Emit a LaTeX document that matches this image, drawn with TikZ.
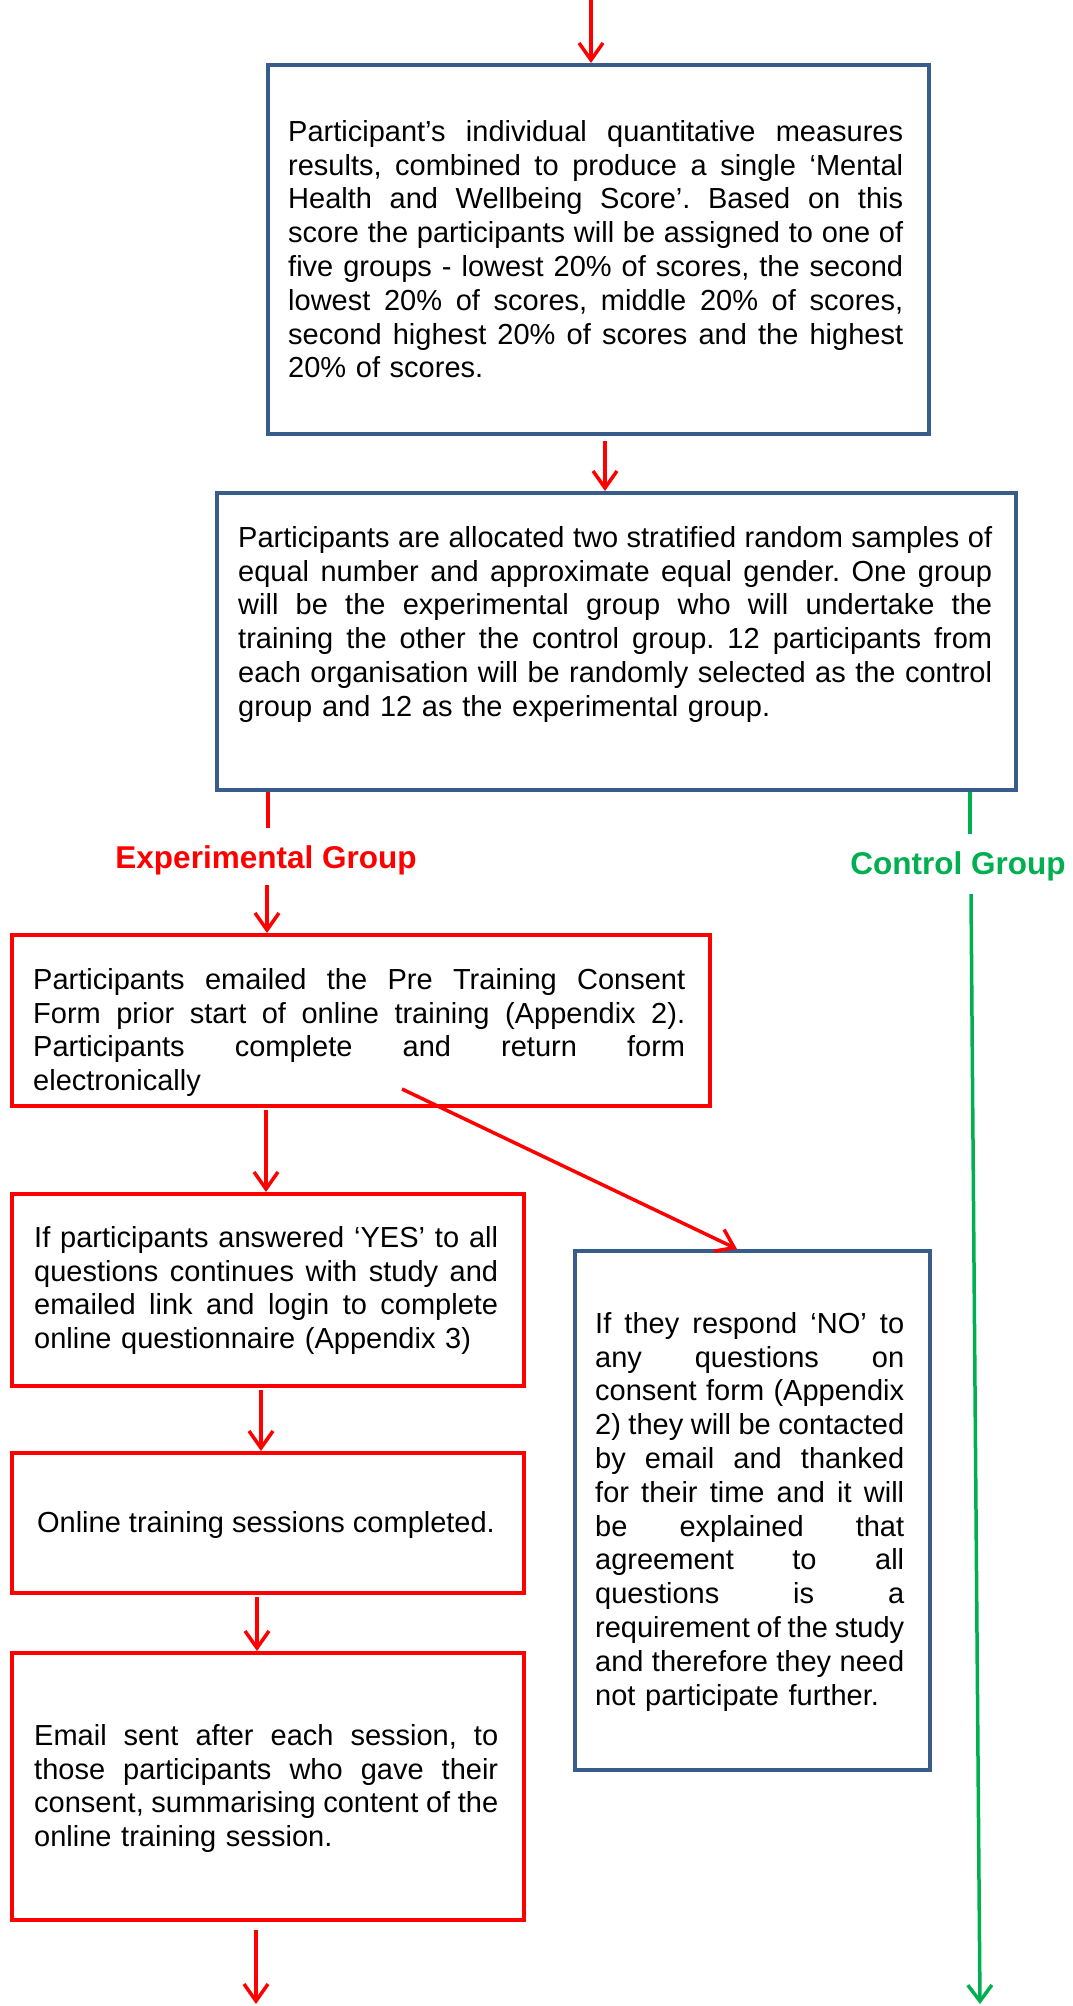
\documentclass[tikz,border=0pt]{standalone}
\usepackage{fontspec}
\setmainfont{Liberation Sans}
\usetikzlibrary{arrows.meta,calc}
\definecolor{boxblue}{HTML}{385D8A}
\definecolor{flowred}{HTML}{FF0000}
\definecolor{flowgreen}{HTML}{00B050}
\setlength\parindent{0pt}
\frenchspacing
% one fully justified line of a box text: every word space stretches equally
\newcommand\jl[1]{\makebox[\linewidth][s]{\spaceskip=.278em plus 1fil minus .08em\relax #1}\\}
% fixes the height of the first line so the text block can be placed by its first baseline
\newcommand\firststrut{\rule{0pt}{.9em}}

\begin{document}
\begin{tikzpicture}[x=1pt,y=-1pt,
  box/.style={draw, line width=4pt, rectangle, inner sep=0pt, anchor=north west},
  bluebox/.style={box, draw=boxblue},
  redbox/.style={box, draw=flowred},
  txt/.style={inner sep=0pt, anchor=north west, align=left,
    font=\fontsize{29}{33.8}\selectfont\frenchspacing},
  grouplabel/.style={inner sep=0pt, font=\fontsize{31.5}{36}\selectfont\bfseries},
  rarrow/.style={draw=flowred, line width=3.5pt, -{Straight Barb[length=17pt,width=24pt]}},
  rline/.style={draw=flowred, line width=3.5pt},
  garrow/.style={draw=flowgreen, line width=3.5pt, -{Straight Barb[length=16pt,width=24pt]}},
  gline/.style={draw=flowgreen, line width=3.5pt},
]
\fill[white] (0,0) rectangle (1072,2006);
\useasboundingbox (0,0) rectangle (1072,2006);

% ---- boxes ----
\node[bluebox, minimum width=661, minimum height=369] (b1) at (266,63) {};
\node[bluebox, minimum width=799, minimum height=297] (b2) at (215,491) {};
\node[redbox,  minimum width=698, minimum height=171] (b3) at (10,933) {};
\node[redbox,  minimum width=512, minimum height=192] (b4) at (10,1192) {};
\node[redbox,  minimum width=512, minimum height=140] (b5) at (10,1451) {};
\node[redbox,  minimum width=512, minimum height=267] (b6) at (10,1651) {};
\node[bluebox, minimum width=355, minimum height=519] (b7) at (573,1249) {};

% ---- box texts ----
\node[txt, text width=615] (t1) at (288,114.9) {\firststrut
\jl{Participant’s individual quantitative measures}
\jl{results, combined to produce a single ‘Mental}
\jl{Health and Wellbeing Score’. Based on this}
\jl{score the participants will be assigned to one of}
\jl{five groups - lowest 20\% of scores, the second}
\jl{lowest 20\% of scores, middle 20\% of scores,}
\jl{second highest 20\% of scores and the highest}
20\% of scores.};

\node[txt, text width=754] (t2) at (238,520.9) {\firststrut
\jl{Participants are allocated two stratified random samples of}
\jl{equal number and approximate equal gender. One group}
\jl{will be the experimental group who will undertake the}
\jl{training the other the control group. 12 participants from}
\jl{each organisation will be randomly selected as the control}
group and 12 as the experimental group.};

\node[txt, text width=652] (t3) at (33,962.9) {\firststrut
\jl{Participants emailed the Pre Training Consent}
\jl{Form prior start of online training (Appendix 2).}
\jl{Participants complete and return form}
electronically};

\node[txt, text width=464] (t4) at (34,1220.9) {\firststrut
\jl{If participants answered ‘YES’ to all}
\jl{questions continues with study and}
\jl{emailed link and login to complete}
online questionnaire (Appendix 3)};

\node[inner sep=0pt, anchor=base, font=\fontsize{29}{33.8}\selectfont] (t5) at (266,1532)
  {Online training sessions completed.};

\node[txt, text width=464] (t6) at (34,1718.9) {\firststrut
\jl{Email sent after each session, to}
\jl{those participants who gave their}
\jl{consent, summarising content of the}
online training session.};

\node[txt, text width=309] (t7) at (595,1306.9) {\firststrut
\jl{If they respond ‘NO’ to}
\jl{any questions on}
\jl{consent form (Appendix}
\jl{2) they will be contacted}
\jl{by email and thanked}
\jl{for their time and it will}
\jl{be explained that}
\jl{agreement to all}
\jl{questions is a}
\jl{requirement of the study}
\jl{and therefore they need}
not participate further.};

% ---- group labels ----
\node[grouplabel, text=flowred] (expl) at (266,860) {Experimental Group};
\node[grouplabel, text=flowgreen] (ctrl) at (958,866) {Control Group};

% ---- free ends ----
\coordinate (top) at (591,0);
\coordinate (e0) at (268,828);
\coordinate (e1) at (267,885);
\coordinate (d0) at (402,1089);
\coordinate (redend) at (256,2004);
\coordinate (g0) at (970,834);
\coordinate (g1) at (971,894);
\coordinate (g2) at (980,2004);

% ---- connectors ----
\draw[rarrow] (top) -- (top |- b1.north);
\draw[rarrow] ($(b1.south west)+(339,5)$) -- ($(b2.north west)+(390,0)$);
\draw[rline] (b2.south -| e0) -- (e0);
\draw[rarrow] (e1) -- (e1 |- b3.north);
\draw[rarrow] ($(b3.south west)+(256,2)$) -- ($(b4.north west)+(256,0)$);
\draw[rarrow] (d0) -- ($(b7.north west)+(164,0)$);
\draw[rarrow] ($(b4.south west)+(251,2)$) -- ($(b5.north west)+(251,0)$);
\draw[rarrow] ($(b5.south west)+(247,2)$) -- ($(b6.north west)+(247,0)$);
\draw[rarrow] ($(b6.south west)+(246,8)$) -- (redend);
\draw[gline] ($(b2.south west)+(755,0)$) -- (g0);
\draw[garrow] (g1) -- (g2);
\end{tikzpicture}
\end{document}
